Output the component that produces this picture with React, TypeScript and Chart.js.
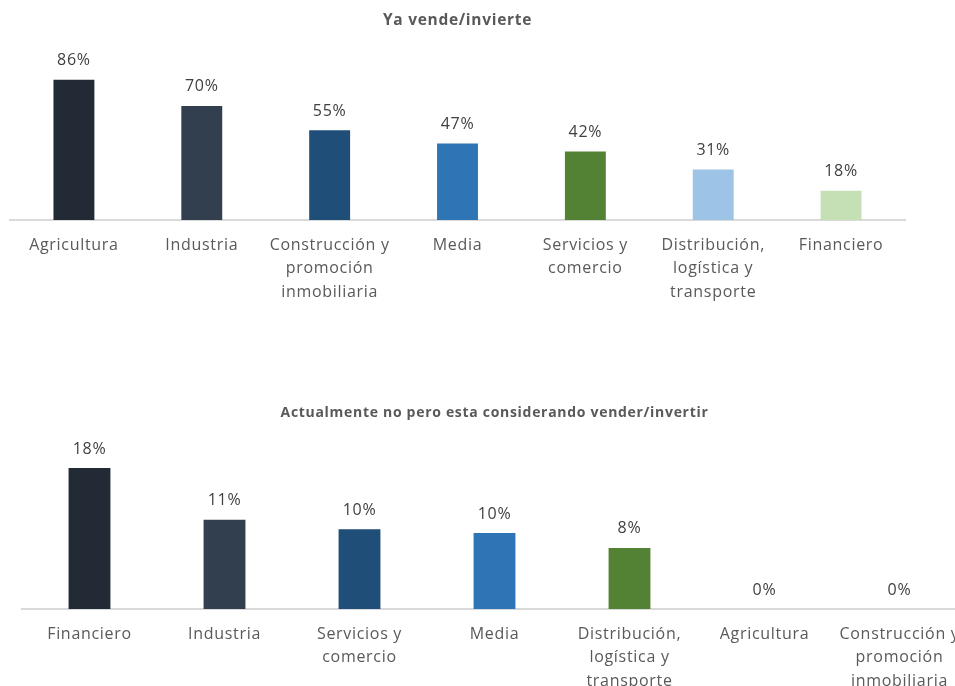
import React, { useEffect, useRef } from "react";
import { Chart, registerables } from "chart.js";

Chart.register(...registerables);

const topTitle = "Ya vende/invierte";
const topCategories: (string | string[])[] = [
  "Agricultura",
  "Industria",
  ["Construcción y", "promoción", "inmobiliaria"],
  "Media",
  ["Servicios y", "comercio"],
  ["Distribución,", "logística y", "transporte"],
  "Financiero",
];
const topValues = [86, 70, 55, 47, 42, 31, 18];
const topColors = ["#222a35", "#323f4f", "#1f4e79", "#2e75b6", "#548235", "#9dc3e6", "#c5e0b4"];

const bottomTitle = "Actualmente no pero esta considerando vender/invertir";
const bottomCategories: (string | string[])[] = [
  "Financiero",
  "Industria",
  ["Servicios y", "comercio"],
  "Media",
  ["Distribución,", "logística y", "transporte"],
  "Agricultura",
  ["Construcción y", "promoción", "inmobiliaria"],
];
const bottomValues = [18, 11.4, 10.2, 9.7, 7.8, 0, 0];
const bottomColors = ["#222a35", "#323f4f", "#1f4e79", "#2e75b6", "#548235", "#9dc3e6", "#c5e0b4"];

const FONT = "'Open Sans', 'Noto Sans', sans-serif";

const spacing = {
  id: "spacing",
  beforeDraw(chart: any) {
    (chart.ctx as any).letterSpacing = "0.7px";
  },
};

const valueLabels = {
  id: "valueLabels",
  afterDatasetsDraw(chart: any) {
    const ctx = chart.ctx;
    const meta = chart.getDatasetMeta(0);
    const data = chart.data.datasets[0].data as number[];
    ctx.save();
    ctx.font = `16px ${FONT}`;
    ctx.fillStyle = "#404040";
    ctx.textAlign = "center";
    ctx.textBaseline = "middle";
    meta.data.forEach((bar: any, i: number) => {
      ctx.fillText(Math.round(data[i]) + "%", bar.x, bar.y - 19);
    });
    ctx.restore();
  },
};

type Cfg = {
  title: string;
  titleSize: number;
  categories: (string | string[])[];
  values: number[];
  colors: string[];
  yMax: number;
  padLeft: number;
  padRight: number;
  titleTop: number;
  titleBottom: number;
  barPct: number;
};

function makeChart(canvas: HTMLCanvasElement, c: Cfg) {
  return new Chart(canvas, {
    type: "bar",
    data: {
      labels: c.categories,
      datasets: [
        {
          data: c.values,
          backgroundColor: c.colors,
          borderWidth: 0,
          barPercentage: c.barPct,
          categoryPercentage: 1,
        },
      ],
    },
    options: {
      animation: false,
      responsive: false,
      layout: { padding: { left: c.padLeft, right: c.padRight, top: 0, bottom: 20 } },
      plugins: {
        legend: { display: false },
        tooltip: { enabled: false },
        title: {
          display: true,
          text: c.title,
          color: "#595959",
          font: { family: FONT, size: c.titleSize, weight: "bold", lineHeight: 1.2 },
          padding: { top: c.titleTop, bottom: c.titleBottom },
        },
      },
      scales: {
        x: {
          grid: { display: false, drawTicks: false },
          border: { display: true, color: "#d9d9d9", width: 2 },
          ticks: {
            color: "#595959",
            font: { family: FONT, size: 16, lineHeight: 1.47 },
            padding: 13.5,
            maxRotation: 0,
            autoSkip: false,
          },
          afterFit: (scale: any) => {
            scale.height = 90;
          },
        },
        y: {
          display: false,
          min: 0,
          max: c.yMax,
        },
      },
    },
    plugins: [spacing, valueLabels],
  });
}

export default function App() {
  const topRef = useRef<HTMLCanvasElement>(null);
  const bottomRef = useRef<HTMLCanvasElement>(null);

  useEffect(() => {
    const a = makeChart(topRef.current!, {
      title: topTitle,
      titleSize: 15.5,
      categories: topCategories,
      values: topValues,
      colors: topColors,
      yMax: 100,
      padLeft: 10,
      padRight: 50,
      titleTop: 11.7,
      titleBottom: 26.7,
      barPct: 0.32,
    });
    const b = makeChart(bottomRef.current!, {
      title: bottomTitle,
      titleSize: 14,
      categories: bottomCategories,
      values: bottomValues,
      colors: bottomColors,
      yMax: 20,
      padLeft: 22,
      padRight: 23,
      titleTop: 65.1,
      titleBottom: 30.5,
      barPct: 0.31,
    });
    return () => {
      a.destroy();
      b.destroy();
    };
  }, []);

  return (
    <div
      style={{
        position: "fixed",
        left: 0,
        top: 0,
        width: 955,
        height: 686,
        overflow: "hidden",
        background: "#ffffff",
      }}
    >
      <canvas
        ref={topRef}
        width={955}
        height={330}
        style={{ position: "absolute", left: 0, top: 0, display: "block" }}
      />
      <canvas
        ref={bottomRef}
        width={990}
        height={379}
        style={{ position: "absolute", left: 0, top: 340, display: "block" }}
      />
    </div>
  );
}
